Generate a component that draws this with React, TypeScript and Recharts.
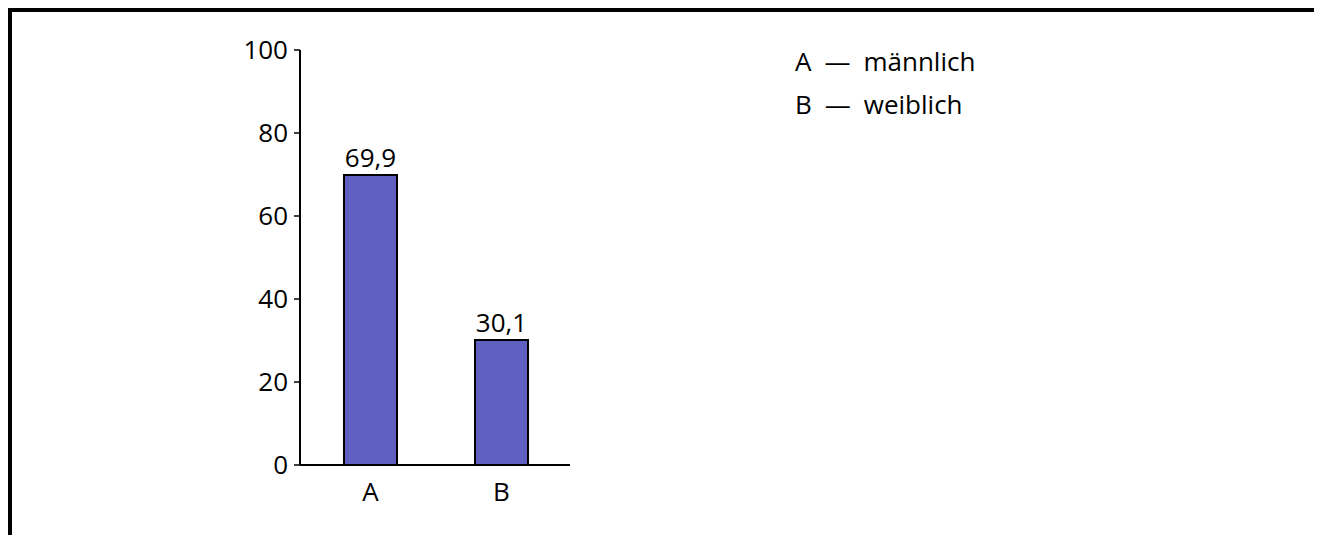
import React from "react";
import { BarChart, Bar, XAxis, YAxis, LabelList } from "recharts";

const categories = ["A", "B"];
const values = [69.9, 30.1];
const legendLabels = ["A\u2002—\u2002männlich", "B\u2002—\u2002weiblich"];
const yTicks = [0, 20, 40, 60, 80, 100];

const data = categories.map((c, i) => ({ name: c, value: values[i] }));

const FONT = "'Open Sans', sans-serif";
const FS = 26;
const fmt = (v: number) => v.toFixed(1).replace(".", ",");

export default function App() {
  return (
    <div
      style={{
        border: "4px solid #000",
        width: 1330,
        height: 560,
        position: "relative",
        boxSizing: "content-box",
        background: "#fff",
      }}
    >
      <BarChart
        width={1310}
        height={540}
        data={data}
        margin={{ top: 38, right: 752, bottom: 47, left: 228 }}
        barSize={53}
        style={{ fontFamily: FONT }}
      >
        <XAxis
          dataKey="name"
          height={40}
          padding={{ left: 5, right: 3 }}
          axisLine={{ stroke: "#000", strokeWidth: 2 }}
          tickLine={false}
          tick={{ fill: "#000", fontSize: FS, fontFamily: FONT }}
          tickMargin={12}
        />
        <YAxis
          width={60}
          domain={[0, 100]}
          ticks={yTicks}
          interval={0}
          axisLine={{ stroke: "#000", strokeWidth: 2 }}
          tickLine={{ stroke: "#000", strokeWidth: 1.5 }}
          tickSize={6}
          tick={{ fill: "#000", fontSize: FS, fontFamily: FONT }}
          tickMargin={6}
        />
        <Bar dataKey="value" fill="#6060C0" stroke="#000" strokeWidth={2} isAnimationActive={false}>
          <LabelList
            dataKey="value"
            position="top"
            formatter={(v: any) => fmt(Number(v))}
            style={{ fill: "#000", fontSize: FS, fontFamily: FONT }}
            offset={8}
          />
        </Bar>
      </BarChart>
      <div
        style={{
          position: "absolute",
          left: 783,
          top: 28,
          fontFamily: FONT,
          fontSize: FS,
          color: "#000",
        }}
      >
        {legendLabels.map((l) => (
          <div key={l} style={{ height: 43, lineHeight: "43px", whiteSpace: "pre" }}>
            {l}
          </div>
        ))}
      </div>
    </div>
  );
}
